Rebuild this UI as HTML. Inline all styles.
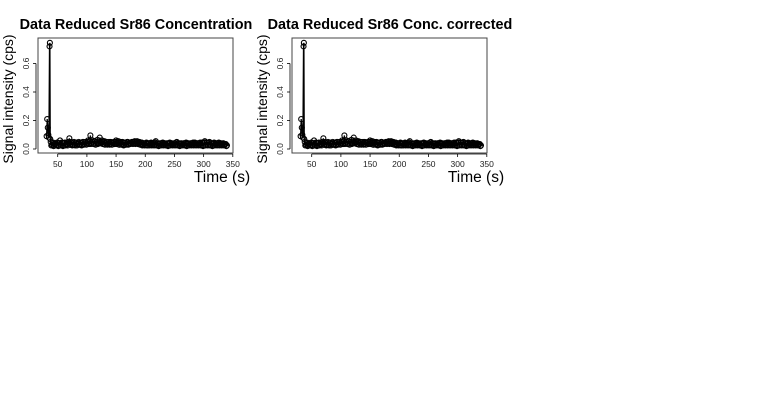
<!DOCTYPE html>
<html><head><meta charset="utf-8"><style>
html,body{margin:0;padding:0;background:#fff;width:760px;height:400px;overflow:hidden}
svg text{font-family:"Liberation Sans",Arial,sans-serif}
</style></head><body>
<svg id="chart" width="760" height="400" xmlns="http://www.w3.org/2000/svg"></svg>
<script>
const titles = ["Data Reduced Sr86 Concentration", "Data Reduced Sr86 Conc. corrected"];
const xTicks = [50, 100, 150, 200, 250, 300, 350];
const yTicks = [0.0, 0.2, 0.4, 0.6];
const yTickLabels = ["0.0", "0.2", "0.4", "0.6"];
const spikeTimes = [31, 32, 33, 34, 35, 36, 36.6, 37.2];
const spikeValues = [0.09, 0.21, 0.15, 0.1, 0.08, 0.72, 0.745, 0.07];
const bandStart = 38;
const bandStep = 2;
const bandValuesEven = [
0.05,0.03,0.045,0.025,0.04,0.03,0.045,0.025,0.06,0.03,0.04,0.025,0.045,0.03,0.035,0.05,0.075,0.03,0.045,0.03,
0.05,0.025,0.045,0.035,0.05,0.03,0.045,0.03,0.05,0.035,0.05,0.04,0.06,0.035,0.095,0.04,0.06,0.035,0.055,0.04,
0.065,0.04,0.08,0.045,0.06,0.035,0.055,0.04,0.05,0.035,0.05,0.035,0.045,0.04,0.05,0.035,0.06,0.04,0.055,0.03,
0.05,0.035,0.045,0.03,0.045,0.035,0.05,0.035,0.045,0.04,0.05,0.04,0.055,0.04,0.055,0.04,0.05,0.035,0.045,0.03,
0.04,0.03,0.045,0.025,0.04,0.03,0.045,0.03,0.04,0.03,0.055,0.03,0.04,0.025,0.04,0.03,0.045,0.03,0.04,0.03,
0.04,0.025,0.045,0.03,0.04,0.03,0.04,0.03,0.05,0.03,0.04,0.025,0.04,0.03,0.04,0.03,0.045,0.025,0.04,0.03,
0.04,0.03,0.045,0.03,0.04,0.03,0.04,0.03,0.045,0.03,0.04,0.025,0.055,0.03,0.045,0.03,0.05,0.03,0.04,0.025,
0.045,0.03,0.04,0.03,0.045,0.03,0.04,0.03,0.04,0.03,0.035,0.025];
const bandValuesOdd = [
0.025,0.04,0.02,0.035,0.025,0.045,0.02,0.04,0.025,0.045,0.02,0.04,0.025,0.045,0.025,0.04,0.03,0.05,0.025,0.04,
0.03,0.045,0.025,0.04,0.03,0.045,0.025,0.05,0.03,0.045,0.03,0.05,0.035,0.055,0.035,0.05,0.035,0.055,0.03,0.05,
0.035,0.055,0.04,0.05,0.035,0.05,0.03,0.05,0.03,0.045,0.03,0.05,0.03,0.045,0.035,0.05,0.035,0.045,0.03,0.045,
0.03,0.05,0.025,0.045,0.03,0.05,0.03,0.045,0.035,0.05,0.035,0.05,0.035,0.05,0.035,0.045,0.03,0.045,0.025,0.04,
0.025,0.04,0.025,0.04,0.025,0.04,0.025,0.04,0.025,0.045,0.025,0.04,0.02,0.04,0.025,0.04,0.025,0.04,0.025,0.04,
0.02,0.04,0.025,0.04,0.025,0.04,0.025,0.045,0.025,0.04,0.02,0.04,0.025,0.04,0.025,0.04,0.02,0.04,0.025,0.04,
0.025,0.04,0.025,0.045,0.025,0.04,0.025,0.04,0.025,0.045,0.02,0.045,0.025,0.045,0.025,0.045,0.025,0.04,0.02,0.04,
0.025,0.04,0.025,0.04,0.025,0.04,0.025,0.04,0.025,0.035,0.02];
const NS = "http://www.w3.org/2000/svg";
const svg = document.getElementById('chart');
function mk(tag, attrs, parent){const e=document.createElementNS(NS,tag);for(const k in attrs)e.setAttribute(k,attrs[k]);(parent||svg).appendChild(e);return e;}
const times = spikeTimes.slice(), vals = spikeValues.slice();
bandValuesEven.forEach((v,i)=>{
  times.push(bandStart+i*bandStep);vals.push(v);
  if(i<bandValuesOdd.length){times.push(bandStart+i*bandStep+bandStep/2);vals.push(bandValuesOdd[i]);}
});
[0,1].forEach(p=>{
  const off = p*254;
  const g = mk('g',{});
  
  
  const L=38+off, R=233+off, T=38, B=153;
  const xs = t => 57.7 + (t-50)*0.5837 + off;
  const ys = v => 149 - v*142.5;
  const t = mk('text',{x:p===0?136:390,y:29,'font-size':'14.4','font-weight':'bold','text-anchor':'middle'},g);
  t.textContent = titles[p];
  
  
  const box = mk('rect',{x:L,y:T,width:R-L,height:B-T,fill:'none',stroke:'#444','stroke-width':1},g);
  
  
  const xa = mk('g',{},g);
  
  
  mk('line',{x1:xs(50),x2:xs(350),y1:B+1,y2:B+1,stroke:'#000','stroke-width':0.8},xa);
  xTicks.forEach(v=>{
    mk('line',{x1:xs(v),x2:xs(v),y1:B+1,y2:B+4,stroke:'#000','stroke-width':0.8},xa);
    const l = mk('text',{x:xs(v),y:B+14,'font-size':'8.5','text-anchor':'middle',fill:'#222'},xa);
    l.textContent = v;
    
    
  });
  const xt = mk('text',{x:R-11,y:182,'font-size':'15.5','text-anchor':'middle'},g);
  xt.textContent='Time (s)';
  
  
  const ya = mk('g',{},g);
  
  
  mk('line',{x1:L-2,x2:L-2,y1:ys(0),y2:ys(0.6),stroke:'#000','stroke-width':0.8},ya);
  yTicks.forEach((v,i)=>{
    mk('line',{x1:L-5,x2:L-2,y1:ys(v),y2:ys(v),stroke:'#000','stroke-width':0.8},ya);
    const l = mk('text',{x:L-9,y:ys(v),'font-size':'8.5','text-anchor':'middle',fill:'#222',transform:`rotate(-90 ${L-9} ${ys(v)})`},ya);
    l.textContent = yTickLabels[i];
    
    
  });
  const yt = mk('text',{x:L-25,y:99,'font-size':'14','text-anchor':'middle',transform:`rotate(-90 ${L-25} 99)`},g);
  yt.textContent='Signal intensity (cps)';
  
  
  const s = mk('g',{},g);
  
  
  const pts = times.map((tt,i)=>xs(tt).toFixed(2)+','+ys(vals[i]).toFixed(2)).join(' ');
  const pl = mk('polyline',{points:pts,fill:'none',stroke:'#000','stroke-width':1.3},s);
  
  
  times.forEach((tt,i)=>{
    const c = mk('circle',{cx:xs(tt),cy:ys(vals[i]),r:2.5,fill:'none',stroke:'#000','stroke-width':1.1},s);
    
    
  });
});
</script>
</body></html>
